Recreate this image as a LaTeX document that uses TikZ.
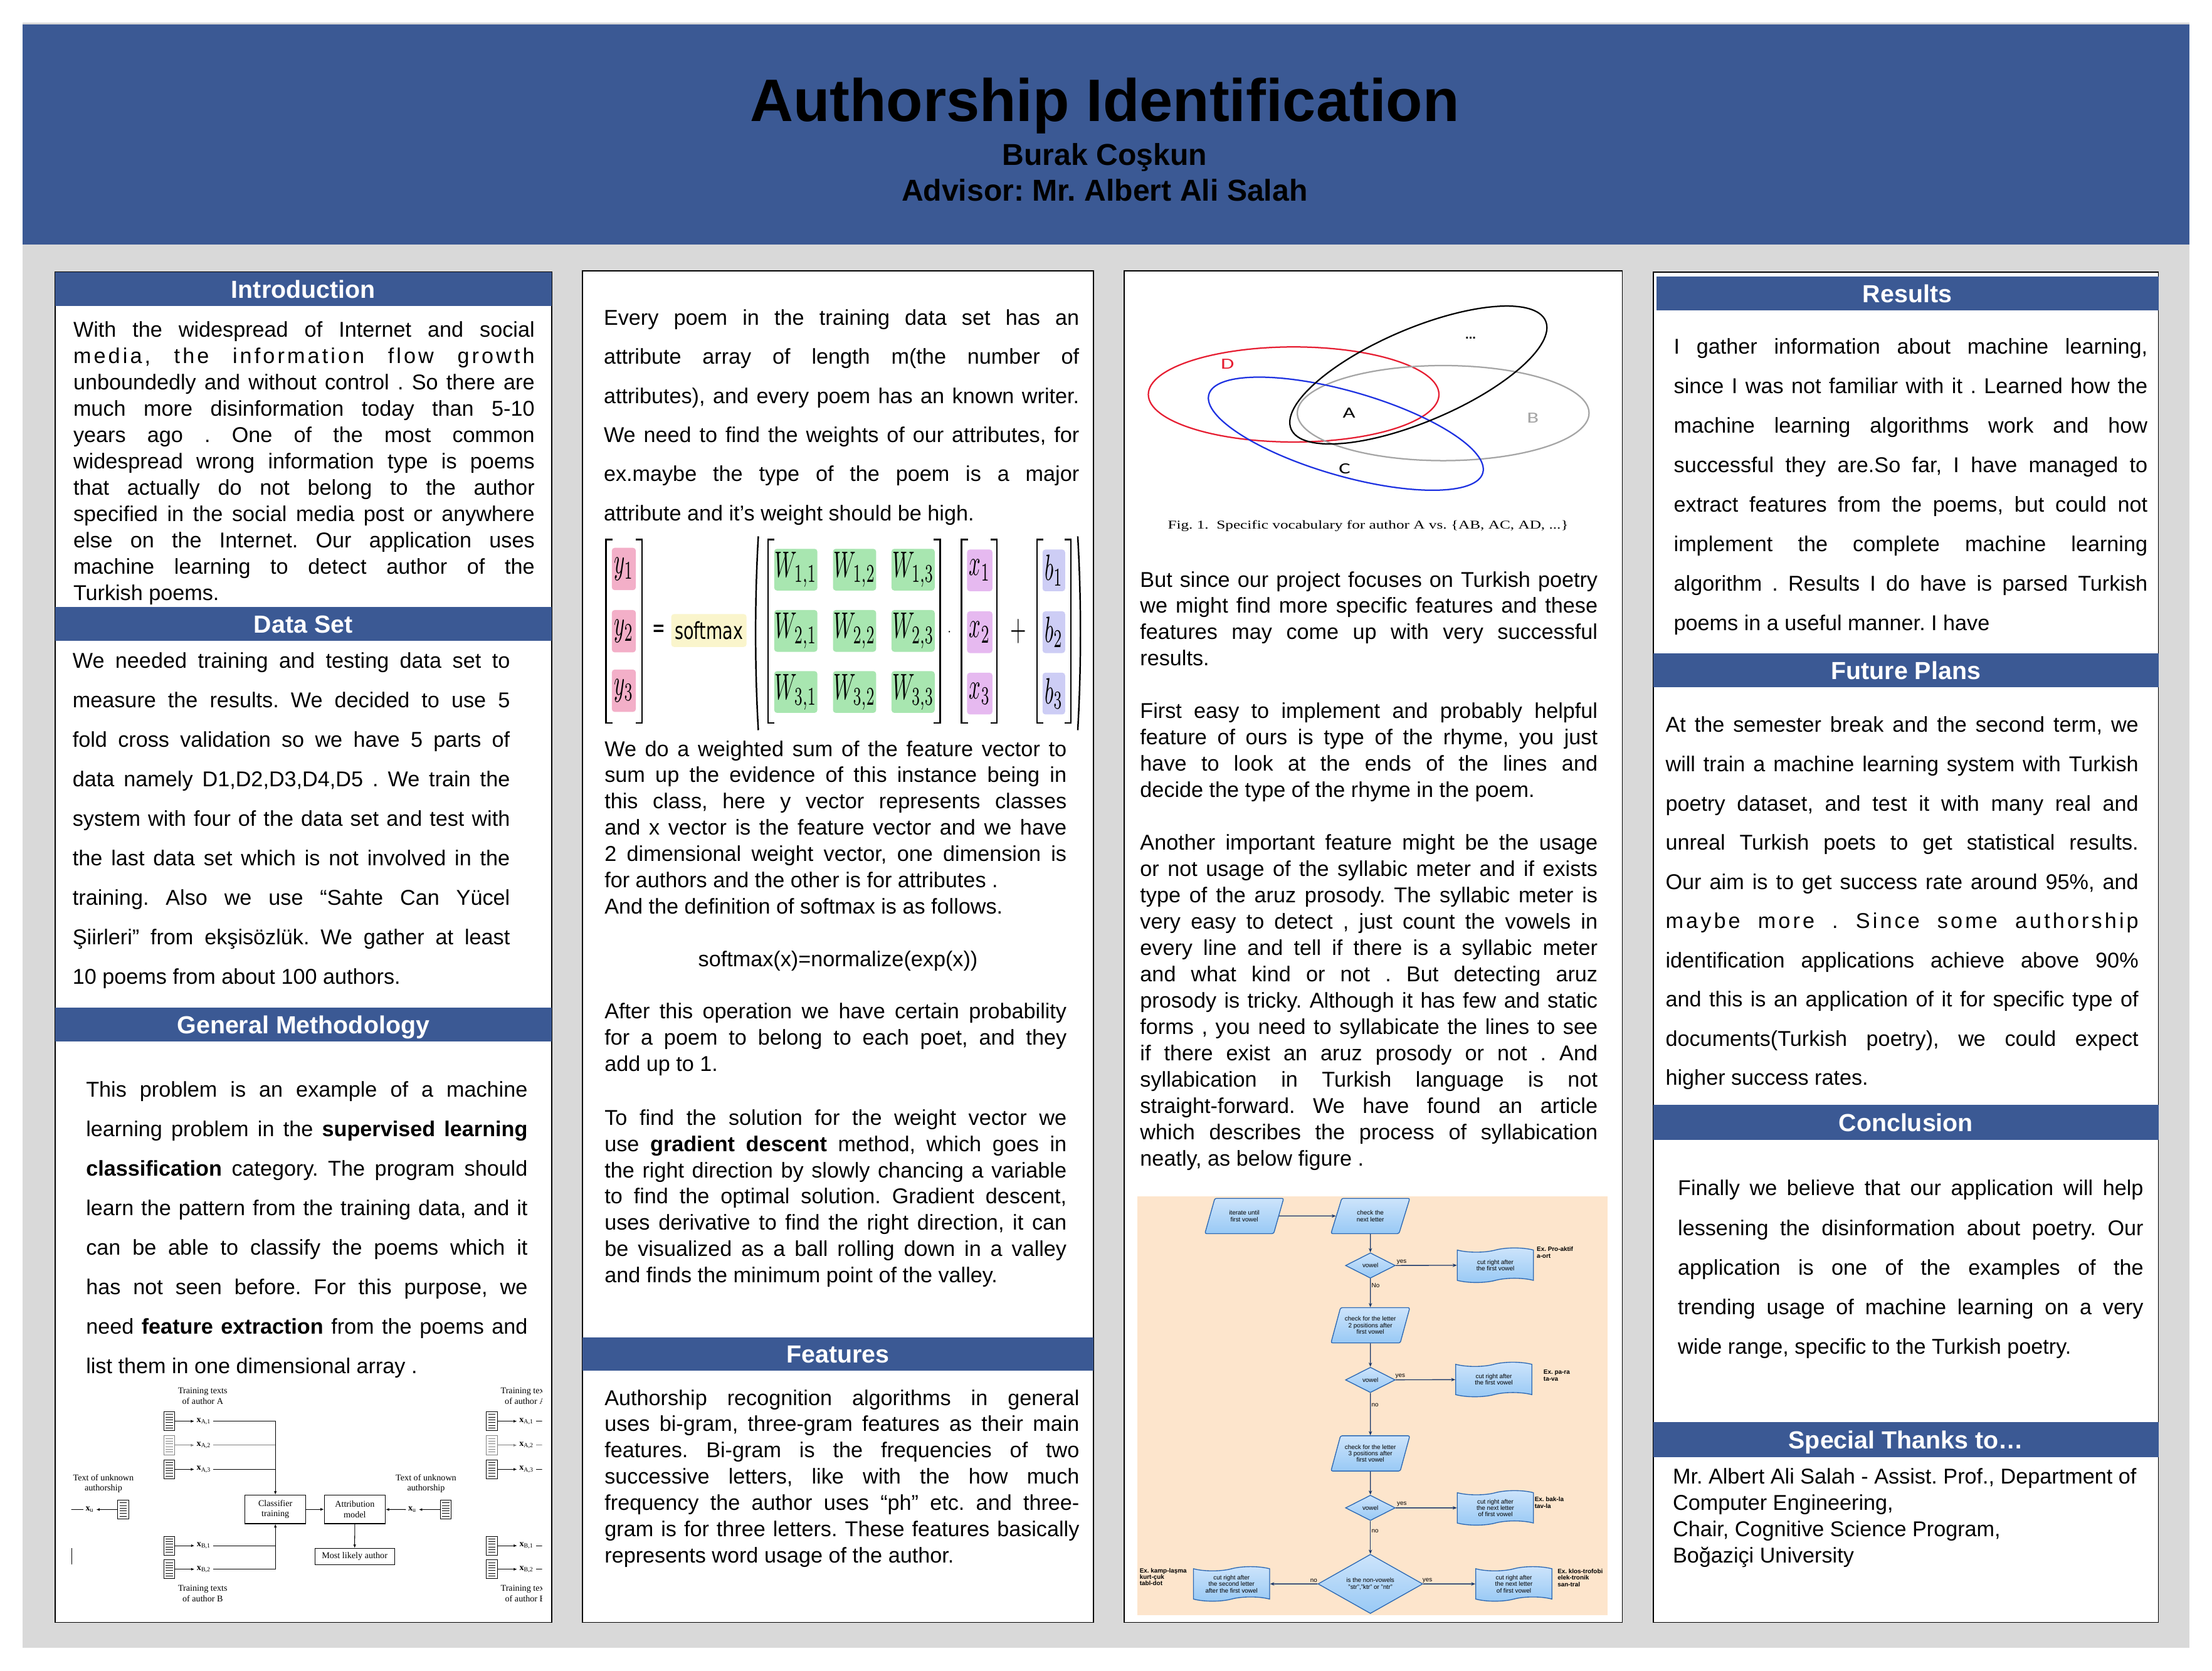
\documentclass[tikz,border=0pt]{standalone}
\usepackage[no-math]{fontspec}
\usepackage{graphicx}
\setmainfont{Liberation Sans}
\newfontfamily\serifff{Liberation Serif}
\newfontfamily\dejavuf{DejaVu Sans}
\newfontfamily\carlitof{Carlito}
\usetikzlibrary{shapes.geometric,shapes.symbols,arrows.meta}
\frenchspacing

\definecolor{hdrblue}{RGB}{59,89,148}
\definecolor{bggray}{RGB}{217,217,217}
\definecolor{peach}{RGB}{253,229,204}
\definecolor{fcA}{RGB}{205,228,251}
\definecolor{fcB}{RGB}{152,201,245}
\definecolor{fcborder}{RGB}{45,105,180}
\definecolor{fcarrow}{RGB}{25,55,105}
\definecolor{cpink}{RGB}{243,175,200}
\definecolor{cgreen}{RGB}{168,230,176}
\definecolor{cyellow}{RGB}{250,245,204}
\definecolor{cviolet}{RGB}{230,185,240}
\definecolor{clav}{RGB}{205,205,245}
\definecolor{vred}{RGB}{230,30,50}
\definecolor{vblue}{RGB}{30,50,225}
\definecolor{vgray}{RGB}{165,165,165}

\newcommand\bodytext[3]{\parbox[t]{#1}{\fontsize{15.2}{#2}\selectfont\tolerance=10000\hbadness=10000\relax #3}}
\newcommand\eqm[1]{\scalebox{1.46}[2.6]{$#1$}}
\newcommand\xl[1]{{\bfseries x}\textsubscript{#1}}
\newcommand\spread[1]{{\addfontfeature{LetterSpace=12}#1}}

\begin{document}
\begin{tikzpicture}[x=1pt,y=-1pt,
  panel/.style={draw=black, line width=0.7pt, fill=white},
  bartitle/.style={anchor=base, text=white, font=\fontsize{17.5}{20}\selectfont\bfseries, inner sep=0pt},
  txt/.style={anchor=base west, inner sep=0pt, outer sep=0pt},
  cellbox/.style={rounded corners=2pt, inner sep=0pt, draw=none},
  brak/.style={line width=1.1pt, line cap=rect},
  vlab/.style={font=\carlitof\fontsize{11}{11}\selectfont, inner sep=0pt},
  figtxt/.style={font=\serifff\fontsize{6.3}{7.4}\selectfont, inner sep=0pt},
  figx/.style={figtxt, inner sep=1.5pt},
  figbox/.style={draw, line width=0.5pt, minimum width=43.3pt, minimum height=20.3pt, inner sep=0pt, align=center, font=\serifff\fontsize{6.3}{7.4}\selectfont},
  docicon/.style={draw, line width=0.45pt, fill=white, minimum width=7.8pt, minimum height=13.4pt, inner sep=0pt,
    path picture={\foreach \k in {1,...,6}{\draw[line width=0.35pt] ([xshift=1.3pt,yshift=-\k*1.9pt]path picture bounding box.north west) -- ([xshift=-1.3pt,yshift=-\k*1.9pt]path picture bounding box.north east);}}},
  figarr/.style={line width=0.45pt, -{Latex[length=2.4pt,width=2pt]}},
  figln/.style={line width=0.45pt},
  fcshape/.style={draw=fcborder, line width=0.6pt, top color=fcA, bottom color=fcB, inner sep=0pt, align=center, font=\fontsize{4.4}{4.6}\selectfont},
  para/.style={fcshape, trapezium, trapezium left angle=65, trapezium right angle=115, trapezium stretches=true, minimum width=56pt, minimum height=25pt, rounded corners=1.2pt},
  dia/.style={fcshape, diamond, aspect=2, minimum width=35.3pt, minimum height=18pt},
  tp/.style={fcshape, tape, tape bend top=in and out, tape bend bottom=in and out, tape bend height=3pt, minimum width=54pt, minimum height=24.5pt},
  fca/.style={draw=fcarrow, line width=0.6pt, -{Stealth[length=3pt,width=2.4pt]}},
  fclab/.style={font=\fontsize{4.4}{4.6}\selectfont, inner sep=0.6pt},
  exlab/.style={font=\fontsize{4.4}{4.6}\selectfont\bfseries, align=left, inner sep=0pt, anchor=west}
]
\useasboundingbox (0,0) rectangle (1568,1184);
\fill[white] (0,0) rectangle (1568,1184);
\fill[bggray] (16,16) rectangle (1552,1168);
\fill[hdrblue] (16,17.5) rectangle (1552,173.5);

% ---------- title ----------
\node[anchor=base, inner sep=0pt, font=\fontsize{42.5}{44}\selectfont\bfseries] (title) at (783,86) {Authorship Identification};
\node[anchor=base, inner sep=0pt, font=\fontsize{21.4}{24}\selectfont\bfseries] (author) at (783,117) {Burak Coşkun};
\node[anchor=base, inner sep=0pt, font=\fontsize{21.4}{24}\selectfont\bfseries] (advisor) at (783,142.5) {Advisor: Mr. Albert Ali Salah};

% ---------- panels ----------
\draw[panel] (39,193) rectangle (391,1150);
\draw[panel] (413,192) rectangle (775,1150);
\draw[panel] (797,192) rectangle (1150,1150);
\draw[panel] (1172,193) rectangle (1530,1150);

% ---------- bars ----------
\fill[hdrblue] (39,193) rectangle (391,217);
\fill[hdrblue] (39,430) rectangle (391,454);
\fill[hdrblue] (39,714) rectangle (391,738);
\fill[hdrblue] (413,948) rectangle (775,971.5);
\fill[hdrblue] (1174,196) rectangle (1530,220);
\fill[hdrblue] (1172,463) rectangle (1530,487);
\fill[hdrblue] (1172,783) rectangle (1530,808);
\fill[hdrblue] (1172,1008) rectangle (1530,1033);
\node[bartitle] (hIntro) at (215,211.5) {Introduction};
\node[bartitle] (hData) at (215,448.5) {Data Set};
\node[bartitle] (hMeth) at (215,732.5) {General Methodology};
\node[bartitle] (hFeat) at (594,966) {Features};
\node[bartitle] (hRes) at (1352,214.5) {Results};
\node[bartitle] (hFut) at (1351,481.5) {Future Plans};
\node[bartitle] (hConc) at (1351,802) {Conclusion};
\node[bartitle] (hThx) at (1351,1027) {Special Thanks to…};

% ---------- column 1 ----------
\node[txt] (intro) at (52,239) {\bodytext{327pt}{18.65}{With the widespread of Internet and social\linebreak
\spread{media, the information flow growth}\linebreak
unboundedly and without control . So there are\linebreak
much more disinformation today than 5-10\linebreak
years ago . One of the most common\linebreak
widespread wrong information type is poems\linebreak
that actually do not belong to the author\linebreak
specified in the social media post or anywhere\linebreak
else on the Internet. Our application uses\linebreak
machine learning to detect author of the\linebreak
Turkish poems.}};

\node[txt] (dataset) at (51.5,473.5) {\bodytext{310pt}{28}{We needed training and testing data set to\linebreak
measure the results. We decided to use 5\linebreak
fold cross validation so we have 5 parts of\linebreak
data namely D1,D2,D3,D4,D5 . We train the\linebreak
system with four of the data set and test with\linebreak
the last data set which is not involved in the\linebreak
training. Also we use “Sahte Can Yücel\linebreak
Şiirleri” from ekşisözlük. We gather at least\linebreak
10 poems from about 100 authors.}};

\node[txt] (method) at (61,777.5) {\bodytext{313pt}{28}{This problem is an example of a machine\linebreak
learning problem in the \textbf{supervised learning}\linebreak
\textbf{classification} category. The program should\linebreak
learn the pattern from the training data, and it\linebreak
can be able to classify the poems which it\linebreak
has not seen before. For this purpose, we\linebreak
need \textbf{feature extraction} from the poems and\linebreak
list them in one dimensional array .}};

% methodology figure (main part)
\node[figtxt, align=center] (tA) at (143.7,989.6) {Training texts\\of author A};
\node[docicon] (dA1) at (120,1007.4) {};
\node[docicon, draw=gray] (dA2) at (120,1024.4) {};
\node[docicon] (dA3) at (120,1041.5) {};
\node[docicon] (dB1) at (120,1095.6) {};
\node[docicon] (dB2) at (120,1112.3) {};
\node[figx] (xA1) at (144.5,1007.4) {\xl{A,1}};
\node[figx] (xA2) at (144.5,1024.4) {\xl{A,2}};
\node[figx] (xA3) at (144.5,1041.5) {\xl{A,3}};
\node[figx] (xB1) at (144.5,1095.6) {\xl{B,1}};
\node[figx] (xB2) at (144.5,1112.3) {\xl{B,2}};
\node[figbox] (cls) at (195.2,1069.85) {Classifier\\training};
\node[figbox] (attr) at (251.5,1069.85) {Attribution\\model};
\node[figx] (xu) at (292.3,1070) {\xl{u}};
\node[docicon] (du) at (316,1070) {};
\node[figtxt, align=center] (tU) at (302,1051.6) {Text of unknown\\authorship};
\node[figbox, minimum width=56.4pt, minimum height=11.4pt] (scr) at (251.4,1103.2) {Most likely author};
\node[figtxt, align=center] (tB) at (143.7,1129.6) {Training texts\\of author B};
\draw[figarr] (dA1) -- (xA1);
\draw[figarr, gray] (dA2) -- (xA2);
\draw[figarr] (dA3) -- (xA3);
\draw[figarr] (dB1) -- (xB1);
\draw[figarr] (dB2) -- (xB2);
\draw[figarr] (xA1.east) -| (cls.north);
\draw[figln, gray] (xA2.east) -- (xA2.east -| cls.north);
\draw[figln] (xA3.east) -- (xA3.east -| cls.north);
\draw[figarr] (xB2.east) -| (cls.south);
\draw[figln] (xB1.east) -- (xB1.east -| cls.south);
\draw[figarr] (cls) -- (attr);
\draw[figarr] (xu) -- (attr);
\draw[figarr] (du) -- (xu);
\draw[figarr] (attr) -- (scr);

% methodology figure (partial repeats at the edges)
\begin{scope}
  \clip (50.5,977) rectangle (384.3,1140);
  % right edge
  \node[figtxt, align=center] (rtA) at (372.4,989.6) {Training texts\\of author A};
  \node[docicon] (rdA1) at (348.7,1007.4) {};
  \node[docicon, draw=gray] (rdA2) at (348.7,1024.4) {};
  \node[docicon] (rdA3) at (348.7,1041.5) {};
  \node[docicon] (rdB1) at (348.7,1095.6) {};
  \node[docicon] (rdB2) at (348.7,1112.3) {};
  \node[figx] (rxA1) at (373.2,1007.4) {\xl{A,1}};
  \node[figx] (rxA2) at (373.2,1024.4) {\xl{A,2}};
  \node[figx] (rxA3) at (373.2,1041.5) {\xl{A,3}};
  \node[figx] (rxB1) at (373.2,1095.6) {\xl{B,1}};
  \node[figx] (rxB2) at (373.2,1112.3) {\xl{B,2}};
  \node[figtxt, align=center] (rtB) at (372.4,1129.6) {Training texts\\of author B};
  \draw[figarr] (rdA1) -- (rxA1);
  \draw[figarr, gray] (rdA2) -- (rxA2);
  \draw[figarr] (rdA3) -- (rxA3);
  \draw[figarr] (rdB1) -- (rxB1);
  \draw[figarr] (rdB2) -- (rxB2);
  \coordinate (eA1) at (386,1007.4);
  \coordinate (eA2) at (386,1024.4);
  \coordinate (eA3) at (386,1041.5);
  \coordinate (eB1) at (386,1095.6);
  \coordinate (eB2) at (386,1112.3);
  \draw[figln] (rxA1.east) -- (eA1);
  \draw[figln, gray] (rxA2.east) -- (eA2);
  \draw[figln] (rxA3.east) -- (eA3);
  \draw[figln] (rxB1.east) -- (eB1);
  \draw[figln] (rxB2.east) -- (eB2);
  % left edge
  \node[figtxt, align=center] (ltU) at (73.3,1051.6) {Text of unknown\\authorship};
  \node[figx] (lxu) at (63.6,1070) {\xl{u}};
  \node[docicon] (ldu) at (87.3,1070) {};
  \draw[figarr] (ldu) -- (lxu);
  \coordinate (lcut) at (50,1070);
  \draw[figln] (lxu.west) -- (lcut);
  \coordinate (lsc1) at (50.9,1097.5);
  \coordinate (lsc2) at (50.9,1108.9);
  \draw[figln] (lsc1) -- (lsc2);
\end{scope}

% ---------- column 2 ----------
\node[txt] (every) at (428,230.5) {\bodytext{337pt}{27.7}{Every poem in the training data set has an\linebreak
attribute array of length m(the number of\linebreak
attributes), and every poem has an known writer.\linebreak
We need to find the weights of our attributes, for\linebreak
ex.maybe the type of the poem is a major\linebreak
attribute and it's weight should be high.}};

% equation
\draw[brak] (433.5,382.5) -- (429.5,382.5) -- (429.5,512.4) -- (433.5,512.4);
\draw[brak] (451,382.5) -- (455,382.5) -- (455,512.4) -- (451,512.4);
\node[cellbox, fill=cpink, minimum width=17pt, minimum height=30pt] (y1) at (442.2,403.3) {\eqm{y_1}};
\node[cellbox, fill=cpink, minimum width=17pt, minimum height=30pt] (y2) at (442.2,447.4) {\eqm{y_2}};
\node[cellbox, fill=cpink, minimum width=17pt, minimum height=30pt] (y3) at (442.2,489.6) {\eqm{y_3}};
\node[inner sep=0pt] (eqsign) at (467,447) {\scalebox{1}[1.66]{\dejavuf\fontsize{11}{11}\selectfont =}};
\node[cellbox, fill=cyellow, minimum width=53.4pt, minimum height=23.3pt] (smax) at (502.5,446.9) {\scalebox{1.2}[1.66]{\dejavuf\fontsize{10}{10}\selectfont softmax}};
\draw[brak] (537.5,380.7) .. controls (535,425) and (535,473) .. (537.5,517);
\draw[brak] (548.4,382.5) -- (544.4,382.5) -- (544.4,512.4) -- (548.4,512.4);
\draw[brak] (662.5,382.5) -- (666.5,382.5) -- (666.5,512.4) -- (662.5,512.4);
\node[cellbox, fill=cgreen, minimum width=30.6pt, minimum height=29.6pt] (w11) at (564.1,403.8) {\eqm{W_{1,1}}};
\node[cellbox, fill=cgreen, minimum width=30.6pt, minimum height=29.6pt] (w12) at (605.75,403.8) {\eqm{W_{1,2}}};
\node[cellbox, fill=cgreen, minimum width=30.6pt, minimum height=29.6pt] (w13) at (647.25,403.8) {\eqm{W_{1,3}}};
\node[cellbox, fill=cgreen, minimum width=30.6pt, minimum height=29.6pt] (w21) at (564.1,447.2) {\eqm{W_{2,1}}};
\node[cellbox, fill=cgreen, minimum width=30.6pt, minimum height=29.6pt] (w22) at (605.75,447.2) {\eqm{W_{2,2}}};
\node[cellbox, fill=cgreen, minimum width=30.6pt, minimum height=29.6pt] (w23) at (647.25,447.2) {\eqm{W_{2,3}}};
\node[cellbox, fill=cgreen, minimum width=30.6pt, minimum height=29.6pt] (w31) at (564.1,490.5) {\eqm{W_{3,1}}};
\node[cellbox, fill=cgreen, minimum width=30.6pt, minimum height=29.6pt] (w32) at (605.75,490.5) {\eqm{W_{3,2}}};
\node[cellbox, fill=cgreen, minimum width=30.6pt, minimum height=29.6pt] (w33) at (647.25,490.5) {\eqm{W_{3,3}}};
\node[inner sep=0pt] (dotop) at (673,448) {$\cdot$};
\draw[brak] (685.6,382.5) -- (681.6,382.5) -- (681.6,512.4) -- (685.6,512.4);
\draw[brak] (702.6,382.5) -- (706.6,382.5) -- (706.6,512.4) -- (702.6,512.4);
\node[cellbox, fill=cviolet, minimum width=18pt, minimum height=29.6pt] (x1) at (694.5,404.3) {\eqm{x_1}};
\node[cellbox, fill=cviolet, minimum width=18pt, minimum height=29.6pt] (x2) at (694.5,448.1) {\eqm{x_2}};
\node[cellbox, fill=cviolet, minimum width=18pt, minimum height=29.6pt] (x3) at (694.5,491.6) {\eqm{x_3}};
\node[inner sep=0pt] (plusop) at (722,447.7) {\eqm{+}};
\draw[brak] (739,382.5) -- (735,382.5) -- (735,512.4) -- (739,512.4);
\draw[brak] (755.2,382.5) -- (759.2,382.5) -- (759.2,512.4) -- (755.2,512.4);
\node[cellbox, fill=clav, minimum width=16pt, minimum height=29.6pt] (b1) at (747,404.3) {\eqm{b_1}};
\node[cellbox, fill=clav, minimum width=16pt, minimum height=29.6pt] (b2) at (747,448.1) {\eqm{b_2}};
\node[cellbox, fill=clav, minimum width=16pt, minimum height=29.6pt] (b3) at (747,491.6) {\eqm{b_3}};
\draw[brak] (764,380.7) .. controls (766.5,425) and (766.5,473) .. (764,517);

\node[txt] (wsum) at (428.6,536) {\bodytext{327.5pt}{18.6}{We do a weighted sum of the feature vector to\linebreak
sum up the evidence of this instance being in\linebreak
this class, here y vector represents classes\linebreak
and x vector is the feature vector and we have\linebreak
2 dimensional weight vector, one dimension is\linebreak
for authors and the other is for attributes .\\
And the definition of softmax is as follows.}};
\node[anchor=base, inner sep=0pt, font=\fontsize{15.2}{18}\selectfont] (smdef) at (594,685.2) {softmax(x)=normalize(exp(x))};
\node[txt] (after) at (428.6,722.2) {\bodytext{327.5pt}{18.6}{After this operation we have certain probability\linebreak
for a poem to belong to each poet, and they\linebreak
add up to 1.}};
\node[txt] (tofind) at (428.6,797.5) {\bodytext{327.5pt}{18.6}{To find the solution for the weight vector we\linebreak
use \textbf{gradient descent} method, which goes in\linebreak
the right direction by slowly chancing a variable\linebreak
to find the optimal solution. Gradient descent,\linebreak
uses derivative to find the right direction, it can\linebreak
be visualized as a ball rolling down in a valley\linebreak
and finds the minimum point of the valley.}};

\node[txt] (features) at (428.6,996) {\bodytext{336.5pt}{18.6}{Authorship recognition algorithms in general\linebreak
uses bi-gram, three-gram features as their main\linebreak
features. Bi-gram is the frequencies of two\linebreak
successive letters, like with the how much\linebreak
frequency the author uses “ph” etc. and three-\linebreak
gram is for three letters. These features basically\linebreak
represents word usage of the author.}};

% ---------- column 3: Venn ----------
\draw[vred, line width=1pt] (917,279.6) ellipse [x radius=103pt, y radius=33.7pt];
\draw[vgray, line width=1pt] (1023,292.8) ellipse [x radius=103.4pt, y radius=33.7pt];
\draw[vblue, line width=1pt, rotate around={-16:(954,307.4)}] (954,307.4) ellipse [x radius=101pt, y radius=30pt];
\draw[black, line width=1pt, rotate around={23:(1005.4,265.8)}] (1005.4,265.8) ellipse [x radius=98pt, y radius=33pt];
\node[vlab, text=vred] (vD) at (870.1,258.1) {\scalebox{1.4}[1]{D}};
\node[vlab] (vA) at (956.3,292.7) {\scalebox{1.4}[1]{A}};
\node[vlab, text=vgray] (vB) at (1086.6,296.3) {\scalebox{1.4}[1]{B}};
\node[vlab] (vC) at (953.1,332.4) {\scalebox{1.4}[1]{C}};
\node[inner sep=0pt, font=\fontsize{9}{9}\selectfont\bfseries] (vdots) at (1042.5,239.5) {...};
\node[inner sep=0pt] (vcap) at (969.8,373) {\scalebox{1.32}[1]{\serifff\fontsize{8.5}{9}\selectfont Fig. 1.\ \ Specific vocabulary for author A vs. \{AB, AC, AD, ...\}}};

\node[txt] (col3) at (808.2,416) {\bodytext{324.3pt}{18.65}{But since our project focuses on Turkish poetry\linebreak
we might find more specific features and these\linebreak
features may come up with very successful\linebreak
results.\par\vskip18.65pt
First easy to implement and probably helpful\linebreak
feature of ours is type of the rhyme, you just\linebreak
have to look at the ends of the lines and\linebreak
decide the type of the rhyme in the poem.\par\vskip18.65pt
Another important feature might be the usage\linebreak
or not usage of the syllabic meter and if exists\linebreak
type of the aruz prosody. The syllabic meter is\linebreak
very easy to detect , just count the vowels in\linebreak
every line and tell if there is a syllabic meter\linebreak
and what kind or not . But detecting aruz\linebreak
prosody is tricky. Although it has few and static\linebreak
forms , you need to syllabicate the lines to see\linebreak
if there exist an aruz prosody or not . And\linebreak
syllabication in Turkish language is not\linebreak
straight-forward. We have found an article\linebreak
which describes the process of syllabication\linebreak
neatly, as below figure .}};

% ---------- column 3: flowchart ----------
\fill[peach] (806.2,847.9) rectangle (1139.5,1144.8);
\node[para] (p1) at (882,861.9) {iterate until\\first vowel};
\node[para] (p2) at (971.4,861.9) {check the\\next letter};
\node[dia] (d1) at (971.4,897) {vowel};
\node[tp] (r1) at (1060,896.8) {cut right after\\the first vowel};
\node[para] (p3) at (971.4,939.4) {check for the letter\\2 positions after\\first vowel};
\node[dia] (d2) at (971.4,978.1) {vowel};
\node[tp] (r2) at (1058.9,977.8) {cut right after\\the first vowel};
\node[para] (p4) at (971.4,1030.2) {check for the letter\\3 positions after\\first vowel};
\node[dia] (d3) at (971.4,1068.8) {vowel};
\node[tp] (r3) at (1060,1068.8) {cut right after\\the next letter\\of first vowel};
\node[fcshape, diamond, aspect=1.8, minimum width=74.3pt, minimum height=42pt] (d4) at (971.4,1122.7) {is the non-vowels\\"str","ktr" or "ntr"};
\node[tp] (r4) at (873,1122.7) {cut right after\\the second letter\\after the first vowel};
\node[tp] (r5) at (1073.1,1122.7) {cut right after\\the next letter\\of first vowel};
\node[exlab] (ex1) at (1089.2,887.7) {Ex. Pro-aktif\\a-ort};
\node[exlab] (ex2) at (1094,975) {Ex. pa-ra\\ta-va};
\node[exlab] (ex3) at (1087.7,1065) {Ex. bak-la\\tav-la};
\node[exlab] (ex4) at (807.7,1117.7) {Ex. kamp-laşma\\kurt-çuk\\tabl-dot};
\node[exlab] (ex5) at (1103.9,1118.3) {Ex. klos-trofobi\\elek-tronik\\san-tral};
\draw[fca] (p1) -- (p2);
\draw[fca] (p2) -- (d1);
\draw[fca] (d1) -- node[fclab, pos=0.1, above] (ly1) {yes} (r1);
\draw[fca] (d1) -- node[fclab, pos=0.25, right] (ln1) {No} (p3);
\draw[fca] (p3) -- (d2);
\draw[fca] (d2) -- node[fclab, pos=0.08, above] (ly2) {yes} (r2);
\draw[fca] (d2) -- node[fclab, pos=0.28, right] (ln2) {no} (p4);
\draw[fca] (p4) -- (d3);
\draw[fca] (d3) -- node[fclab, pos=0.1, above] (ly3) {yes} (r3);
\draw[fca] (d3) -- node[fclab, pos=0.3, right] (ln3) {no} (d4);
\draw[fca] (d4) -- node[fclab, pos=0.08, above] (ln4) {no} (r4);
\draw[fca] (d4) -- node[fclab, pos=0.08, above] (ly4) {yes} (r5);

% ---------- column 4 ----------
\node[txt] (results) at (1186.5,250.8) {\bodytext{335.8pt}{28}{I gather information about machine learning,\linebreak
since I was not familiar with it . Learned how the\linebreak
machine learning algorithms work and how\linebreak
successful they are.So far, I have managed to\linebreak
extract features from the poems, but could not\linebreak
implement the complete machine learning\linebreak
algorithm . Results I do have is parsed Turkish\linebreak
poems in a useful manner. I have}};

\node[txt] (future) at (1180.7,519.1) {\bodytext{335.2pt}{27.8}{At the semester break and the second term, we\linebreak
will train a machine learning system with Turkish\linebreak
poetry dataset, and test it with many real and\linebreak
unreal Turkish poets to get statistical results.\linebreak
Our aim is to get success rate around 95\%, and\linebreak
\spread{maybe more . Since some authorship}\linebreak
identification applications achieve above 90\%\linebreak
and this is an application of it for specific type of\linebreak
documents(Turkish poetry), we could expect\linebreak
higher success rates.}};

\node[txt] (conclusion) at (1189.4,847.5) {\bodytext{330pt}{28.1}{Finally we believe that our application will help\linebreak
lessening the disinformation about poetry. Our\linebreak
application is one of the examples of the\linebreak
trending usage of machine learning on a very\linebreak
wide range, specific to the Turkish poetry.}};

\node[txt] (thanks) at (1185.8,1051.8) {\parbox[t]{340pt}{\fontsize{15.2}{18.7}\selectfont\raggedright Mr. Albert Ali Salah - Assist. Prof., Department of\\Computer Engineering,\\Chair, Cognitive Science Program,\\Boğaziçi University}};
\end{tikzpicture}
\end{document}
